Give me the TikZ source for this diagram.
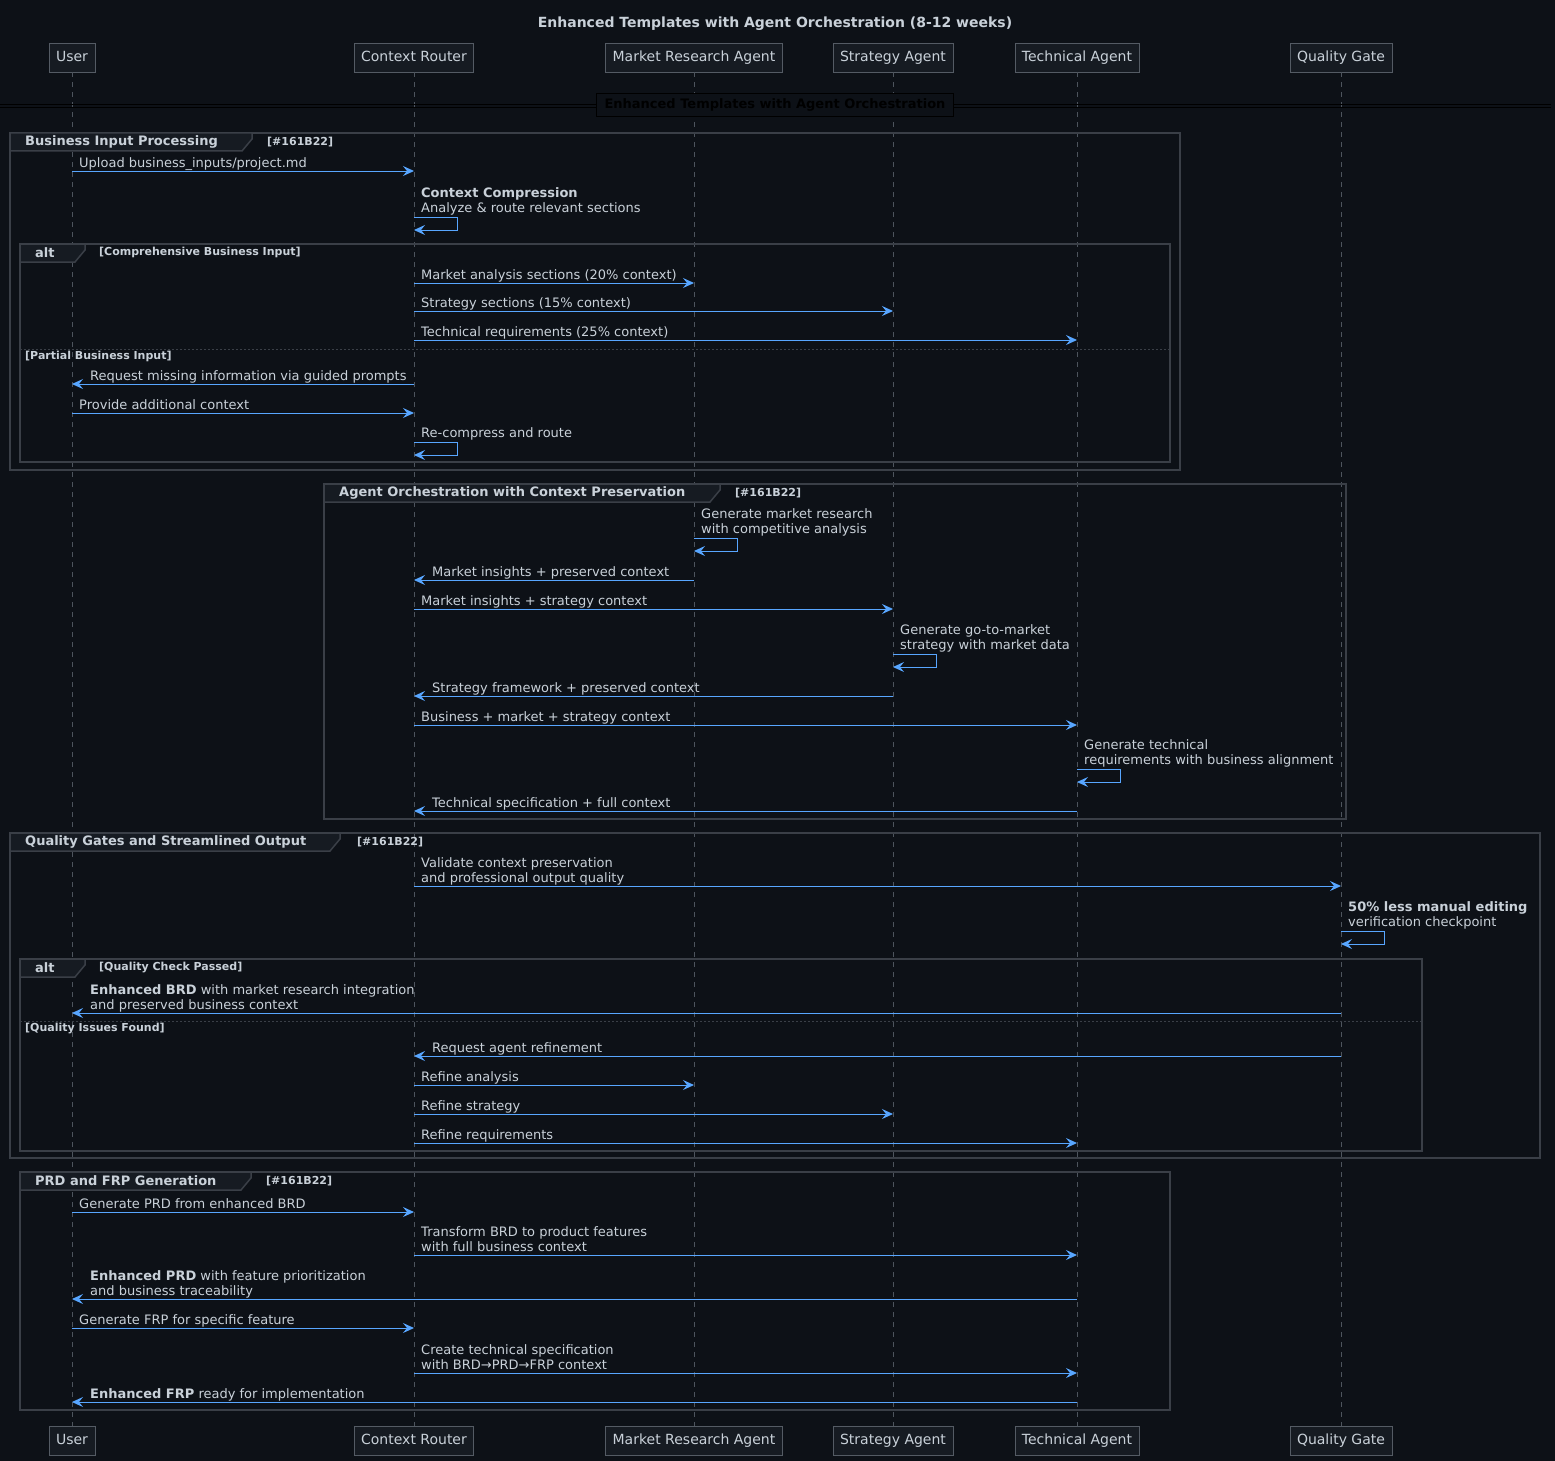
\documentclass[tikz,border=0pt]{standalone}
\usepackage{fontspec}
\setmainfont{DejaVu Sans}
\usetikzlibrary{arrows.meta}
\definecolor{bg}{HTML}{0D1117}
\definecolor{fg}{HTML}{C9D1D9}
\definecolor{arr}{HTML}{58A6FF}
\definecolor{frame}{HTML}{3A3F47}
\definecolor{pfill}{HTML}{161B22}
\definecolor{pline}{HTML}{545B64}
\definecolor{life}{HTML}{4D545D}
\newcommand\nl{\\\strut}
\newcommand\mr[5]{%
  \draw[msg] (#2 |- 0,#4) -- (#3 |- 0,#4);
  \node[lbl,anchor=south west,xshift=7pt,yshift=-1pt] (#1) at (#2 |- 0,#4) {\strut #5};}
\newcommand\ml[5]{%
  \draw[msg] (#2 |- 0,#4) -- (#3 |- 0,#4);
  \node[lbl,anchor=south west,xshift=18pt,yshift=-1pt] (#1) at (#3 |- 0,#4) {\strut #5};}
\newcommand\ms[4]{%
  \draw[msg] (#2 |- 0,#3) -- ++(43,0) -- ++(0,13) -- ++(-43,0);
  \node[lbl,anchor=south west,xshift=7pt,yshift=0pt] (#1) at (#2 |- 0,#3) {\strut #4};}
\begin{document}
\begin{tikzpicture}[x=1pt,y=-1pt,
  part/.style={draw=pline, fill=pfill, text=fg, font=\fontsize{14}{16}\selectfont,
    inner xsep=7pt, inner ysep=0pt, minimum height=29pt, text height=10.5pt, text depth=3pt, line width=0.8pt},
  msg/.style={draw=arr, line width=1pt, -{Stealth[length=11pt,width=10pt,inset=4pt]}},
  lbl/.style={text=fg, font=\fontsize{13}{15}\selectfont, inner sep=0pt, align=left},
  lifeline/.style={draw=life, line width=0.8pt, dash pattern=on 5pt off 5pt},
  grp/.style={draw=frame, line width=1.5pt},
  tab/.style={draw=frame, fill=pfill, line width=1.5pt},
  glbl/.style={text=fg, font=\bfseries\fontsize{13}{15}\selectfont, inner sep=0pt, anchor=west},
  gsm/.style={text=fg, font=\bfseries\fontsize{11}{13}\selectfont, inner sep=0pt, anchor=west},
  sep/.style={draw=frame, line width=0.8pt, dash pattern=on 2pt off 2pt}]
\useasboundingbox (0,0) rectangle (1555,1461);
\fill[bg] (0,0) rectangle (1555,1461);

% title
\node[text=fg, font=\bfseries\fontsize{14}{16}\selectfont, inner sep=0pt] (title) at (775,23.5) {Enhanced Templates with Agent Orchestration (8-12 weeks)};

% participants
\node[part] (user) at (72,57.5) {User};
\node[part] (router) at (414,57.5) {Context Router};
\node[part] (market) at (694,57.5) {Market Research Agent};
\node[part] (strat) at (893,57.5) {Strategy Agent};
\node[part] (tech) at (1077,57.5) {Technical Agent};
\node[part] (qg) at (1341,57.5) {Quality Gate};
\node[part] (userB) at (72,1441) {User};
\node[part] (routerB) at (414,1441) {Context Router};
\node[part] (marketB) at (694,1441) {Market Research Agent};
\node[part] (stratB) at (893,1441) {Strategy Agent};
\node[part] (techB) at (1077,1441) {Technical Agent};
\node[part] (qgB) at (1341,1441) {Quality Gate};
\foreach \p in {user,router,market,strat,tech,qg}{
  \draw[lifeline] (\p.south) -- (\p B.north);
}

% divider
\draw[black, line width=0.8pt] (0,104) -- (1551,104) (0,107) -- (1551,107);
\node[draw=black, fill=bg, line width=1.5pt, text=black, font=\bfseries\fontsize{13}{15}\selectfont,
  inner xsep=8pt, minimum height=23pt, text height=10pt, text depth=3pt] (divider) at (775,105) {Enhanced Templates with Agent Orchestration};

% ===== Group 1 =====
\draw[grp] (10,133) rectangle (1180,470);
\draw[tab] (10,133) -- (252,133) -- (252,139) -- (242,151) -- (10,151) -- cycle;
\node[glbl] (g1) at (25,142) {Business Input Processing};
\node[gsm] (g1c) at (267,142) {[\#161B22]};
\draw[grp] (20,244) rectangle (1170,462);
\draw[tab] (20,244) -- (85,244) -- (85,250) -- (75,262) -- (20,262) -- cycle;
\node[glbl] (a1) at (35,253) {alt};
\node[gsm] (a1c) at (99,252) {[Comprehensive Business Input]};
\draw[sep] (20,349) -- (1170,349);
\node[gsm] (a1e) at (25,356) {[Partial Business Input]};

\mr{m1}{user}{router}{171}{Upload business\_inputs/project.md}
\ms{m2}{router}{217}{\textbf{Context Compression}\nl Analyze \& route relevant sections}
\mr{m3}{router}{market}{283}{Market analysis sections (20\% context)}
\mr{m4}{router}{strat}{311}{Strategy sections (15\% context)}
\mr{m5}{router}{tech}{340}{Technical requirements (25\% context)}
\ml{m6}{router}{user}{384}{Request missing information via guided prompts}
\mr{m7}{user}{router}{413}{Provide additional context}
\ms{m8}{router}{442}{Re-compress and route}

% ===== Group 2 =====
\draw[grp] (324,484) rectangle (1346,819);
\draw[tab] (324,484) -- (720,484) -- (720,490) -- (710,502) -- (324,502) -- cycle;
\node[glbl] (g2) at (339,493) {Agent Orchestration with Context Preservation};
\node[gsm] (g2c) at (735,493) {[\#161B22]};

\ms{m9}{market}{538}{Generate market research\nl with competitive analysis}
\ml{m10}{market}{router}{580}{Market insights + preserved context}
\mr{m11}{router}{strat}{609}{Market insights + strategy context}
\ms{m12}{strat}{654}{Generate go-to-market\nl strategy with market data}
\ml{m13}{strat}{router}{696}{Strategy framework + preserved context}
\mr{m14}{router}{tech}{725}{Business + market + strategy context}
\ms{m15}{tech}{769}{Generate technical\nl requirements with business alignment}
\ml{m16}{tech}{router}{811}{Technical specification + full context}

% ===== Group 3 =====
\draw[grp] (10,833) rectangle (1540,1158);
\draw[tab] (10,833) -- (340,833) -- (340,839) -- (330,851) -- (10,851) -- cycle;
\node[glbl] (g3) at (25,842) {Quality Gates and Streamlined Output};
\node[gsm] (g3c) at (357,842) {[\#161B22]};
\draw[grp] (20,959) rectangle (1422,1151);
\draw[tab] (20,959) -- (85,959) -- (85,965) -- (75,977) -- (20,977) -- cycle;
\node[glbl] (a2) at (35,968) {alt};
\node[gsm] (a2c) at (99,967) {[Quality Check Passed]};
\draw[sep] (20,1021) -- (1422,1021);
\node[gsm] (a2e) at (25,1028) {[Quality Issues Found]};

\mr{m17}{router}{qg}{886}{Validate context preservation\nl and professional output quality}
\ms{m18}{qg}{931}{\textbf{50\% less manual editing}\nl verification checkpoint}
\ml{m19}{qg}{user}{1013}{\textbf{Enhanced BRD} with market research integration\nl and preserved business context}
\ml{m20}{qg}{router}{1056}{Request agent refinement}
\mr{m21}{router}{market}{1085}{Refine analysis}
\mr{m22}{router}{strat}{1114}{Refine strategy}
\mr{m23}{router}{tech}{1143}{Refine requirements}

% ===== Group 4 =====
\draw[grp] (20,1172) rectangle (1170,1410);
\draw[tab] (20,1172) -- (251,1172) -- (251,1178) -- (241,1190) -- (20,1190) -- cycle;
\node[glbl] (g4) at (35,1181) {PRD and FRP Generation};
\node[gsm] (g4c) at (266,1181) {[\#161B22]};

\mr{m24}{user}{router}{1212}{Generate PRD from enhanced BRD}
\mr{m25}{router}{tech}{1255}{Transform BRD to product features\nl with full business context}
\ml{m26}{tech}{user}{1299}{\textbf{Enhanced PRD} with feature prioritization\nl and business traceability}
\mr{m27}{user}{router}{1328}{Generate FRP for specific feature}
\mr{m28}{router}{tech}{1373}{Create technical specification\nl with BRD→PRD→FRP context}
\ml{m29}{tech}{user}{1402}{\textbf{Enhanced FRP} ready for implementation}
\end{tikzpicture}
\end{document}
